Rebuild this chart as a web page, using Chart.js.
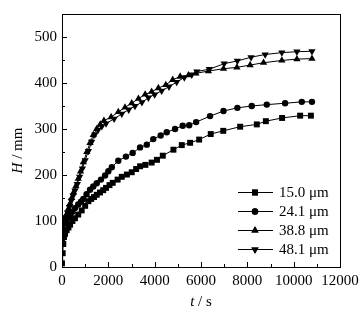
<!DOCTYPE html>
<html>
<head>
<meta charset="UTF-8">
<title>H - t</title>
<script src="https://cdn.jsdelivr.net/npm/chart.js"></script>
<style>
  html, body { margin: 0; padding: 0; background: #fff; }
  #chart { display: block; }
</style>
</head>
<body>
<canvas id="chart" width="364" height="315"></canvas>
<script>
// data (t in s, H in mm)
const seriesNames = ['15.0 μm', '24.1 μm', '38.8 μm', '48.1 μm'];

const t15 = [0, 30, 56, 86, 130, 200, 280, 350, 450, 560, 700, 850, 1000, 1140, 1260, 1380, 1500, 1640, 1780, 1900, 2050, 2190, 2400, 2580, 2800, 3010, 3200, 3370, 3600, 3870, 4100, 4350, 4810, 5170, 5530, 5920, 6420, 6960, 7690, 8410, 8800, 9500, 10280, 10744];
const h15 = [8, 30, 50, 65, 72, 80, 86, 92, 100, 106, 114, 123, 133, 143, 148, 152, 157, 162, 167, 172, 178, 183, 190, 196, 201, 206, 213, 219, 222, 227, 233, 242, 255, 265, 270, 277, 289, 296, 305, 310, 317, 324, 329, 329];

const t24 = [0, 56, 120, 200, 280, 350, 450, 560, 700, 820, 920, 1060, 1210, 1350, 1500, 1680, 1860, 2000, 2150, 2430, 2760, 3050, 3370, 3660, 3940, 4260, 4520, 4880, 5210, 5490, 5790, 6390, 6970, 7570, 8190, 8840, 9630, 10350, 10790];
const h24 = [60, 79, 95, 102, 108, 113, 120, 128, 136, 142, 148, 158, 168, 175, 182, 190, 199, 208, 217, 231, 240, 248, 260, 266, 278, 286, 293, 300, 307, 308, 315, 328, 339, 346, 350, 353, 356, 359, 359];

const t38 = [0, 13, 56, 130, 200, 280, 350, 420, 500, 600, 700, 800, 920, 1070, 1210, 1350, 1500, 1650, 1810, 2120, 2430, 2720, 3010, 3300, 3590, 3870, 4160, 4480, 4780, 5100, 5460, 5780, 6320, 6970, 7550, 8120, 8700, 9490, 10140, 10790];
const h38 = [85, 90, 98, 106, 115, 127, 138, 150, 162, 176, 192, 208, 228, 250, 270, 287, 300, 310, 318, 326, 337, 347, 356, 366, 375, 381, 389, 396, 407, 414, 417, 421, 426, 431, 434, 439, 444, 449, 452, 453];

const t48 = [0, 30, 90, 160, 240, 320, 400, 480, 560, 660, 760, 880, 1000, 1140, 1280, 1420, 1560, 1720, 1900, 2250, 2580, 2880, 3150, 3450, 3730, 4000, 4300, 4620, 4950, 5280, 5600, 5820, 6360, 7000, 7570, 8160, 8770, 9490, 10140, 10790];
const h48 = [80, 88, 96, 108, 118, 130, 144, 155, 166, 180, 196, 214, 232, 252, 272, 288, 298, 306, 312, 322, 333, 342, 350, 358, 368, 375, 383, 392, 402, 412, 418, 425, 430, 442, 448, 456, 462, 466, 468, 469];

const xTicks = [0, 2000, 4000, 6000, 8000, 10000, 12000];
const yTicks = [0, 100, 200, 300, 400, 500];

const serif = '"Liberation Serif", "Times New Roman", serif';

function pts(t, h) {
  return t.map((v, i) => ({ x: v, y: h[i] }));
}

const markers = [
  { style: 'rect', radius: 4.2, rotation: 0 },
  { style: 'circle', radius: 3.2, rotation: 0 },
  { style: 'triangle', radius: 4.2, rotation: 0 },
  { style: 'triangle', radius: 4.2, rotation: 180 }
];

function makeSet(name, t, h, m) {
  return {
    label: name,
    data: pts(t, h),
    showLine: true,
    borderColor: '#000',
    borderWidth: 1,
    backgroundColor: '#000',
    pointStyle: m.style,
    pointRadius: m.radius,
    pointRotation: m.rotation,
    pointBorderWidth: 0,
    pointBackgroundColor: '#000'
  };
}

// box, inward ticks, axis titles, legend
const framePlugin = {
  id: 'framePlugin',
  afterDraw(chart) {
    const { ctx, chartArea: a, scales } = chart;
    const xs = scales.x, ys = scales.y;
    ctx.save();
    ctx.strokeStyle = '#000';
    ctx.lineWidth = 1;
    ctx.strokeRect(Math.round(a.left) + 0.5, Math.round(a.top) + 0.5,
      Math.round(a.right - a.left), Math.round(a.bottom - a.top));

    ctx.beginPath();
    for (let v = 0; v <= 12000; v += 1000) {
      const px = Math.round(xs.getPixelForValue(v)) + 0.5;
      const len = v % 2000 === 0 ? 5 : 3;
      ctx.moveTo(px, a.bottom);
      ctx.lineTo(px, a.bottom - len);
    }
    for (let v = 0; v <= 550; v += 50) {
      const py = Math.round(ys.getPixelForValue(v)) + 0.5;
      const len = v % 100 === 0 ? 5 : 3;
      ctx.moveTo(a.left, py);
      ctx.lineTo(a.left + len, py);
    }
    ctx.stroke();

    // axis titles
    ctx.fillStyle = '#000';
    ctx.textBaseline = 'middle';
    ctx.font = 'italic 15px ' + serif;
    const tW = ctx.measureText('t').width;
    ctx.font = '15px ' + serif;
    const restX = ' / s';
    const rW = ctx.measureText(restX).width;
    let sx = (a.left + a.right) / 2 - (tW + rW) / 2;
    ctx.font = 'italic 15px ' + serif;
    ctx.textAlign = 'left';
    ctx.fillText('t', sx, 302);
    ctx.font = '15px ' + serif;
    ctx.fillText(restX, sx + tW, 302);

    ctx.save();
    ctx.translate(18, (a.top + a.bottom) / 2 + 10);
    ctx.rotate(-Math.PI / 2);
    ctx.font = 'italic 15px ' + serif;
    const hW = ctx.measureText('H').width;
    ctx.font = '15px ' + serif;
    const restY = ' / mm';
    const ryW = ctx.measureText(restY).width;
    const sy = -(hW + ryW) / 2;
    ctx.font = 'italic 15px ' + serif;
    ctx.fillText('H', sy, 0);
    ctx.font = '15px ' + serif;
    ctx.fillText(restY, sy + hW, 0);
    ctx.restore();

    // legend
    const rows = [192, 211, 230, 249];
    chart.data.datasets.forEach((ds, i) => {
      const y = rows[i];
      ctx.beginPath();
      ctx.moveTo(238, y + 0.5);
      ctx.lineTo(273, y + 0.5);
      ctx.stroke();
      Chart.helpers.drawPoint(ctx, {
        pointStyle: markers[i].style,
        radius: markers[i].radius,
        rotation: markers[i].rotation,
        borderWidth: 0
      }, 255, y + 0.5);
      ctx.fill();
      ctx.font = '15px ' + serif;
      ctx.textAlign = 'left';
      ctx.fillText(ds.label, 279, y + 1);
    });
    ctx.restore();
  }
};

const config = {
  type: 'scatter',
  data: {
    datasets: [
      makeSet(seriesNames[0], t15, h15, markers[0]),
      makeSet(seriesNames[1], t24, h24, markers[1]),
      makeSet(seriesNames[2], t38, h38, markers[2]),
      makeSet(seriesNames[3], t48, h48, markers[3])
    ]
  },
  options: {
    responsive: false,
    animation: false,
    layout: { padding: { top: 7, right: 24, left: 0, bottom: 0 } },
    plugins: {
      legend: { display: false },
      tooltip: { enabled: false }
    },
    scales: {
      x: {
        type: 'linear',
        min: 0,
        max: 12000,
        afterBuildTicks: s => { s.ticks = xTicks.map(v => ({ value: v })); },
        afterFit: s => { s.height = 48; },
        grid: { display: false, drawTicks: false },
        border: { display: false },
        ticks: {
          color: '#000',
          padding: 5,
          maxRotation: 0,
          autoSkip: false,
          callback: v => String(v),
          font: { family: serif, size: 15 }
        }
      },
      y: {
        type: 'linear',
        min: 0,
        max: 550,
        afterBuildTicks: s => { s.ticks = yTicks.map(v => ({ value: v })); },
        afterFit: s => { s.width = 62; },
        grid: { display: false, drawTicks: false },
        border: { display: false },
        ticks: {
          color: '#000',
          padding: 5,
          callback: v => String(v),
          font: { family: serif, size: 15 }
        }
      }
    }
  },
  plugins: [framePlugin]
};

new Chart(document.getElementById('chart').getContext('2d'), config);
</script>
</body>
</html>
